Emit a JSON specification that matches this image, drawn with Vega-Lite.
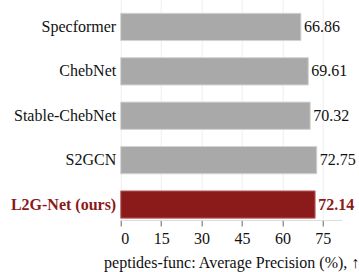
{
  "$schema": "https://vega.github.io/schema/vega-lite/v6.json",
  "width": 221,
  "height": 220,
  "autosize": {"type": "none"},
  "padding": {"left": 120.7, "top": 0, "right": 17.3, "bottom": 52},
  "background": "white",
  "config": {
    "font": "serif",
    "view": {"stroke": null}
  },
  "data": {
    "values": [
      {"model": "Specformer", "ap": 66.86},
      {"model": "ChebNet", "ap": 69.61},
      {"model": "Stable-ChebNet", "ap": 70.32},
      {"model": "S2GCN", "ap": 72.75},
      {"model": "L2G-Net (ours)", "ap": 72.14}
    ]
  },
  "encoding": {
    "y": {
      "field": "model",
      "type": "nominal",
      "sort": null,
      "scale": {"paddingInner": 0.385, "paddingOuter": 0.17, "align": 0.88},
      "axis": {
        "title": null,
        "domain": false,
        "ticks": false,
        "grid": false,
        "labelFont": "serif",
        "labelFontSize": 16,
        "labelPadding": 5,
        "labelColor": {"condition": {"test": "datum.value === 'L2G-Net (ours)'", "value": "#8b1a1a"}, "value": "#111111"},
        "labelFontWeight": {"condition": {"test": "datum.value === 'L2G-Net (ours)'", "value": "bold"}, "value": "normal"}
      }
    },
    "x": {
      "field": "ap",
      "type": "quantitative",
      "scale": {"domain": [0, 82], "nice": false},
      "axis": {
        "title": "peptides-func: Average Precision (%), ↑",
        "titleFont": "serif",
        "titleFontSize": 16,
        "titleFontWeight": "normal",
        "titleColor": "#111111",
        "titlePadding": 8,
        "values": [0, 15, 30, 45, 60, 75],
        "labelFont": "serif",
        "labelFontSize": 16,
        "labelColor": "#111111",
        "labelPadding": 4,
        "tickSize": 6,
        "tickColor": "#666666",
        "domainColor": "#dddddd",
        "gridColor": "#eeeeee",
        "grid": true
      }
    }
  },
  "layer": [
    {
      "mark": {"type": "bar", "strokeWidth": 1},
      "encoding": {
        "color": {"condition": {"test": "datum.model === 'L2G-Net (ours)'", "value": "#8b1a1a"}, "value": "#a9a9a9"},
        "stroke": {"condition": {"test": "datum.model === 'L2G-Net (ours)'", "value": "#c07070"}, "value": "#d4d4d4"}
      }
    },
    {
      "transform": [{"filter": "datum.model !== 'L2G-Net (ours)'"}],
      "mark": {"type": "text", "align": "left", "baseline": "middle", "dx": 3, "fontSize": 16, "font": "serif", "color": "#111111"},
      "encoding": {
        "text": {"field": "ap", "type": "quantitative", "format": ".2f"}
      }
    },
    {
      "transform": [{"filter": "datum.model === 'L2G-Net (ours)'"}],
      "mark": {"type": "text", "align": "left", "baseline": "middle", "dx": 3, "fontSize": 16, "fontWeight": "bold", "font": "serif", "color": "#8b1a1a"},
      "encoding": {
        "text": {"field": "ap", "type": "quantitative", "format": ".2f"}
      }
    }
  ]
}
